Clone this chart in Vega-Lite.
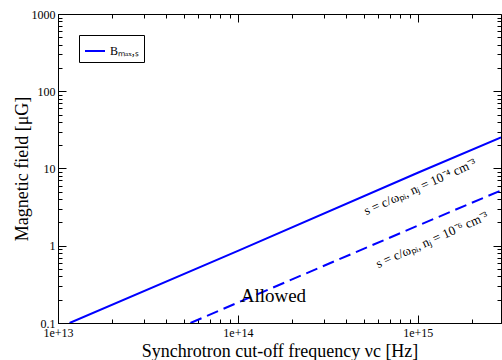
{
  "$schema": "https://vega.github.io/schema/vega-lite/v6.json",
  "width": 443,
  "height": 309,
  "autosize": {"type": "none"},
  "padding": {"left": 58, "top": 14, "right": 1, "bottom": 37},
  "background": "white",
  "config": {
    "font": "Liberation Serif",
    "view": {"stroke": "black", "strokeWidth": 1},
    "axis": {
      "grid": false,
      "domainColor": "black",
      "domainWidth": 1,
      "tickColor": "black",
      "tickWidth": 1,
      "labelColor": "black",
      "labelFont": "Liberation Serif",
      "labelFontSize": 12,
      "labelOverlap": false,
      "labelFlush": false,
      "titleFont": "Liberation Serif",
      "titleFontWeight": "normal",
      "titleColor": "black",
      "titleFontSize": 18
    }
  },
  "layer": [
    {
      "data": {"values": [
        {"nu": 1.16e13, "B": 0.1, "series": "Bₘₐₓ,ₛ"},
        {"nu": 1e14, "B": 0.86, "series": "Bₘₐₓ,ₛ"},
        {"nu": 1e15, "B": 8.8, "series": "Bₘₐₓ,ₛ"},
        {"nu": 2.9e15, "B": 25.3, "series": "Bₘₐₓ,ₛ"}
      ]},
      "mark": {"type": "line", "strokeWidth": 2, "clip": true},
      "encoding": {
        "x": {"field": "nu", "type": "quantitative",
          "scale": {"type": "log", "domain": [1e13, 2.9e15], "nice": false, "zero": false},
          "axis": {"orient": "bottom", "title": "Synchrotron cut-off frequency νc [Hz]",
            "values": [1e13, 2e13, 3e13, 4e13, 5e13, 6e13, 7e13, 8e13, 9e13, 1e14, 2e14, 3e14, 4e14, 5e14, 6e14, 7e14, 8e14, 9e14, 1e15, 2e15],
            "labelExpr": "abs(log(datum.value)/LN10 - round(log(datum.value)/LN10)) < 1e-6 ? format(datum.value, '.0e') : ''",
            "tickSize": {"condition": {"test": "abs(log(datum.value)/LN10 - round(log(datum.value)/LN10)) < 1e-6", "value": -8}, "value": -4},
            "labelPadding": 12, "titlePadding": 0}},
        "y": {"field": "B", "type": "quantitative",
          "scale": {"type": "log", "domain": [0.1, 1000], "nice": false, "zero": false},
          "axis": {"orient": "left", "title": "Magnetic field [μG]",
            "values": [0.1, 0.2, 0.3, 0.4, 0.5, 0.6, 0.7, 0.8, 0.9, 1, 2, 3, 4, 5, 6, 7, 8, 9, 10, 20, 30, 40, 50, 60, 70, 80, 90, 100, 200, 300, 400, 500, 600, 700, 800, 900, 1000],
            "labelExpr": "abs(log(datum.value)/LN10 - round(log(datum.value)/LN10)) < 1e-6 ? format(datum.value, '~g') : ''",
            "tickSize": {"condition": {"test": "abs(log(datum.value)/LN10 - round(log(datum.value)/LN10)) < 1e-6", "value": -8}, "value": -4},
            "labelPadding": 11, "titlePadding": 0}},
        "color": {"field": "series", "type": "nominal",
          "scale": {"domain": ["Bₘₐₓ,ₛ"], "range": ["#0000ff"]},
          "legend": {"orient": "none", "legendX": 21, "legendY": 21, "title": null,
            "strokeColor": "black", "fillColor": "white", "padding": 5, "cornerRadius": 0,
            "symbolType": "stroke", "symbolStrokeWidth": 2, "symbolSize": 400,
            "labelFont": "Liberation Serif", "labelFontSize": 12, "labelColor": "black"}}
      }
    },
    {
      "data": {"values": [
        {"nu": 5.45e13, "B": 0.1},
        {"nu": 1e14, "B": 0.184},
        {"nu": 1e15, "B": 1.82},
        {"nu": 2.9e15, "B": 5.2}
      ]},
      "mark": {"type": "line", "strokeWidth": 2, "color": "#0000ff", "strokeDash": [12, 6], "clip": true},
      "encoding": {
        "x": {"field": "nu", "type": "quantitative",
          "scale": {"type": "log", "domain": [1e13, 2.9e15], "nice": false, "zero": false},
          "axis": {"orient": "top", "title": null, "labels": false, "domain": false,
            "values": [1e13, 2e13, 3e13, 4e13, 5e13, 6e13, 7e13, 8e13, 9e13, 1e14, 2e14, 3e14, 4e14, 5e14, 6e14, 7e14, 8e14, 9e14, 1e15, 2e15],
            "tickSize": {"condition": {"test": "abs(log(datum.value)/LN10 - round(log(datum.value)/LN10)) < 1e-6", "value": -8}, "value": -4}}},
        "y": {"field": "B", "type": "quantitative",
          "scale": {"type": "log", "domain": [0.1, 1000], "nice": false, "zero": false},
          "axis": {"orient": "right", "title": null, "labels": false, "domain": false,
            "values": [0.1, 0.2, 0.3, 0.4, 0.5, 0.6, 0.7, 0.8, 0.9, 1, 2, 3, 4, 5, 6, 7, 8, 9, 10, 20, 30, 40, 50, 60, 70, 80, 90, 100, 200, 300, 400, 500, 600, 700, 800, 900, 1000],
            "tickSize": {"condition": {"test": "abs(log(datum.value)/LN10 - round(log(datum.value)/LN10)) < 1e-6", "value": -8}, "value": -4}}}
      }
    },
    {
      "data": {"values": [
        {"nu": 1.03e15, "B": 5.76, "label": "s = c/ωₚᵢ, nⱼ = 10⁻⁴ cm⁻³"},
        {"nu": 1.2e15, "B": 1.19, "label": "s = c/ωₚᵢ, nⱼ = 10⁻⁶ cm⁻³"}
      ]},
      "mark": {"type": "text", "angle": 336, "fontSize": 13, "font": "Liberation Serif", "color": "black", "align": "center", "baseline": "middle"},
      "encoding": {
        "x": {"field": "nu", "type": "quantitative", "scale": {"type": "log", "domain": [1e13, 2.9e15], "nice": false, "zero": false}, "axis": null},
        "y": {"field": "B", "type": "quantitative", "scale": {"type": "log", "domain": [0.1, 1000], "nice": false, "zero": false}, "axis": null},
        "text": {"field": "label"}
      }
    },
    {
      "data": {"values": [
        {"nu": 1.575e14, "B": 0.188, "label": "Allowed"}
      ]},
      "mark": {"type": "text", "fontSize": 19, "font": "Liberation Serif", "color": "black", "align": "center", "baseline": "alphabetic"},
      "encoding": {
        "x": {"field": "nu", "type": "quantitative", "scale": {"type": "log", "domain": [1e13, 2.9e15], "nice": false, "zero": false}, "axis": null},
        "y": {"field": "B", "type": "quantitative", "scale": {"type": "log", "domain": [0.1, 1000], "nice": false, "zero": false}, "axis": null},
        "text": {"field": "label"}
      }
    }
  ],
  "resolve": {"axis": {"x": "independent", "y": "independent"}}
}
